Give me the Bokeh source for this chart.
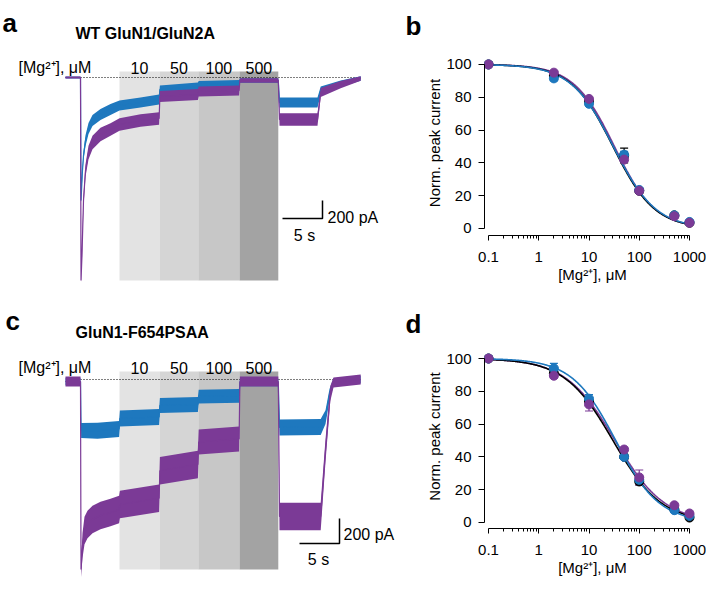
import numpy as np
from bokeh.plotting import figure
from bokeh.layouts import row, column
from bokeh.models import (Range1d, FixedTicker, CustomJSTickFormatter,
                          Whisker, TeeHead, ColumnDataSource)
from bokeh.core.properties import value
from bokeh.embed import file_html
from bokeh.resources import INLINE

FONT = "Liberation Sans"
BLUE = "#1e78be"
PURPLE = "#7b3a96"
BLACK = "#000000"

# ---------------- Mg2+ application windows (s) ----------------
mg_labels = ["10", "50", "100", "500"]
mg_on = [6.75, 11.75, 16.6, 21.75]
mg_off = [11.75, 16.6, 21.75, 26.6]
shade_colors = ["#e3e3e3", "#d5d5d5", "#c7c7c7", "#a3a3a3"]

# ---------------- panel a traces (time s, current pA, noise pA) ----------------
a_blue_t = [0, 1.875, 1.94, 2.125, 2.25, 2.5, 2.875, 3.375, 4.375, 5.625, 6.75, 9.375,
            11.7, 11.8, 16.55, 16.65, 21.7, 21.8, 26.6, 26.75, 31.5, 31.9, 34.4, 36.9]
a_blue_i = [0, 0, -1365, -1030, -866, -700, -566, -477, -411, -355, -311, -278,
            -244, -133, -100, -78, -67, -33, -33, -278, -278, -144, -67, -11]
a_blue_n = [11, 11, 20, 40, 50, 60, 60, 60, 60, 60, 55, 55,
            55, 45, 45, 40, 40, 25, 25, 55, 55, 45, 35, 25]

a_purple_t = [0, 1.875, 1.94, 2.06, 2.25, 2.5, 2.875, 3.375, 4.375, 5.625, 6.75, 9.375,
              11.7, 11.8, 16.55, 16.65, 21.7, 21.8, 26.6, 26.75, 31.5, 31.9, 34.4, 36.9]
a_purple_i = [0, 0, -2253, -1976, -1365, -1032, -833, -722, -633, -577, -522, -477,
              -455, -211, -189, -155, -144, -33, -33, -466, -466, -167, -78, -11]
a_purple_n = [11, 11, 20, 40, 60, 70, 75, 75, 75, 70, 70, 70,
              70, 60, 60, 55, 55, 25, 25, 70, 70, 50, 40, 25]

# ---------------- panel c traces ----------------
c_blue_t = [0, 1.875, 1.95, 4.0, 6.7, 6.8, 11.7, 11.8, 16.55, 16.65, 21.7, 21.8,
            26.6, 26.75, 31.9, 32.5, 33.0, 33.5, 36.9]
c_blue_i = [-16, -16, -408, -410, -395, -312, -300, -208, -200, -136, -130, -24,
            -24, -384, -380, -300, -120, -20, 0]
c_blue_n = [30, 30, 60, 64, 64, 64, 64, 60, 60, 55, 55, 30,
            30, 64, 64, 55, 45, 30, 30]

c_purple_t = [0, 1.875, 1.94, 2.125, 2.375, 2.75, 3.375, 4.375, 5.625, 6.7, 6.8, 11.7,
              11.8, 16.55, 16.65, 21.7, 21.8, 26.6, 26.75, 31.9, 32.5, 33.1, 33.5, 36.9]
c_purple_i = [-16, -16, -1520, -1328, -1208, -1160, -1120, -1088, -1064, -1040, -1000, -950,
              -730, -680, -500, -475, -16, -16, -1096, -1096, -568, -112, -24, 0]
c_purple_n = [40, 40, 60, 100, 110, 110, 110, 110, 110, 110, 110, 110,
              110, 110, 100, 100, 40, 40, 110, 110, 90, 60, 40, 40]

# ---------------- dose-response data ----------------
conc = [0.1, 2, 10, 50, 100, 500, 1000]

b_black = [100, 93, 77.5, 44.5, 23, 8, 3.5]
b_black_sem = [0, 1, 1.5, 4.5, 1.5, 1, 0.5]
b_blue = [100, 91.5, 76, 45, 23.5, 8, 4]
b_blue_sem = [0, 1.5, 1.5, 2, 1, 1, 0.5]
b_purple = [100, 95, 79, 42, 23, 7.5, 3.5]
b_purple_sem = [0, 1, 1, 1.5, 1.5, 1, 0.5]

d_black = [100, 91, 74, 40, 25, 8, 3]
d_black_sem = [0, 1, 1.5, 1.5, 2, 1, 0.5]
d_blue = [100, 94, 75.5, 40, 26, 7.5, 4]
d_blue_sem = [0, 3, 2.5, 1.5, 2, 1, 0.5]
d_purple = [100, 89.5, 72, 44.5, 27.5, 10.5, 5.5]
d_purple_sem = [0, 1.5, 4, 1.5, 4.5, 1, 0.5]

# Hill fit parameters (IC50 uM, nH)
b_fit = {"black": (30, 1.05), "blue": (30.5, 1.03), "purple": (32, 1.07)}
d_fit = {"black": (30, 0.9), "blue": (34, 1.0), "purple": (33, 0.88)}

x_ticks = [0.1, 1, 10, 100, 1000]
x_minor = [k * 10.0 ** e for e in range(-1, 3) for k in range(2, 10)]
y_ticks = [0, 20, 40, 60, 80, 100]

LVL = "annotation"   # draw outside the frame without clipping


def hill(c, ic50, nh):
    return 100.0 / (1.0 + (c / ic50) ** nh)


def txt(p, x, y, s, size="16px", bold=False, align="left"):
    p.text(x=[x], y=[y], text=[s], text_font=value(FONT), text_font_size=value(size),
           text_font_style="bold" if bold else "normal", text_align=align,
           text_baseline="alphabetic", text_color="black", level=LVL)


def band(p, t, i, n, color):
    t = np.asarray(t, float)
    i = np.asarray(i, float)
    n = np.asarray(n, float)
    p.varea(x=t, y1=i - n, y2=i + n, fill_color=color, level=LVL)
    p.line(t, i, line_color=color, line_width=1.2, level=LVL)


def trace_panel(yr, top, bottom, shade_top, shade_bottom, letter, title, letter_x, letter_y,
                title_y, mg_y, blue, purple, sb_corner, sb_label_y, sb5_label_y,
                sb_label_x, sb5_x):
    p = figure(width=400, height=300, x_range=Range1d(-8.125, 41.875), y_range=Range1d(*yr),
               x_axis_location=None, y_axis_location=None, toolbar_location=None,
               output_backend="svg", min_border_left=0, min_border_right=0,
               min_border_top=top, min_border_bottom=bottom, outline_line_color=None)
    p.grid.visible = False
    p.quad(left=mg_on, right=mg_off, top=shade_top, bottom=shade_bottom,
           fill_color=shade_colors, line_color=None, level=LVL)
    p.line([1.875, 36.875], [0, 0], line_color="black", line_dash="1 2", line_width=1.2,
           level=LVL)
    band(p, *blue, BLUE)
    band(p, *purple, PURPLE)
    txt(p, letter_x, letter_y, letter, size="26px", bold=True)
    txt(p, 1.25, title_y, title, size="16px", bold=True)
    txt(p, -5.875, mg_y, "[Mg²⁺], μM", size="16px")
    for lab, on, off in zip(mg_labels, mg_on, mg_off):
        txt(p, (on + off) / 2, mg_y, lab, size="16px", align="center")
    cx, cy = sb_corner
    p.line([cx - 5, cx, cx], [cy, cy, cy + 200], line_color="black", line_width=1.5,
           level=LVL)
    txt(p, sb_label_x, sb_label_y, "200 pA", size="16px")
    txt(p, sb5_x, sb5_label_y, "5 s", size="16px", align="center")
    return p


pa = trace_panel((-1753.8, 299.7), 50, 65, 67, -2253, "a", "WT GluN1/GluN2A", -7.875, 610,
                 488, 111,
                 (a_blue_t, a_blue_i, a_blue_n), (a_purple_t, a_purple_i, a_purple_n),
                 (32.125, -1565), -1554, -1754, 32.75, 29.875)
pc = trace_panel((-1192, 280), 44, 72, 64, -1520, "c", "GluN1-F654PSAA", -7.5, 472, 376, 96,
                 (c_blue_t, c_blue_i, c_blue_n), (c_purple_t, c_purple_i, c_purple_n),
                 (34.25, -1312), -1240, -1440, 34.75, 31.625)


def dose_panel(letter, yr, top, bottom, letter_y, groups, fits):
    p = figure(width=306, height=300, x_axis_type="log", x_range=Range1d(0.0832, 1656),
               y_range=Range1d(*yr), toolbar_location=None, output_backend="svg",
               min_border_left=84, min_border_right=6, min_border_top=top,
               min_border_bottom=bottom, outline_line_color=None)
    p.grid.visible = False
    xs = np.logspace(-1, 3, 300)
    for name in ["purple", "black", "blue"]:
        col = {"purple": PURPLE, "black": BLACK, "blue": BLUE}[name]
        ic, nh = fits[name]
        p.line(xs, hill(xs, ic, nh), line_color=col, line_width=1.6)
    for ys, sem, col in groups:
        ys = np.asarray(ys, float)
        sem = np.asarray(sem, float)
        src = ColumnDataSource(dict(x=conc, y=ys, lo=ys - sem, hi=ys + sem))
        w = Whisker(source=src, base="x", lower="lo", upper="hi", line_color=col,
                    line_width=1.2,
                    upper_head=TeeHead(size=8, line_color=col, line_width=1.2),
                    lower_head=TeeHead(size=8, line_color=col, line_width=1.2))
        p.add_layout(w)
        p.scatter("x", "y", source=src, size=9, fill_color=col, line_color=col)
    xa = p.xaxis[0]
    xa.ticker = FixedTicker(ticks=x_ticks, minor_ticks=x_minor)
    xa.formatter = CustomJSTickFormatter(code="return tick.toString()")
    xa.bounds = (0.1, 1000)
    xa.axis_label = "[Mg²⁺], μM"
    ya = p.yaxis[0]
    ya.ticker = FixedTicker(ticks=y_ticks)
    ya.bounds = (0, 100)
    ya.axis_label = "Norm. peak current"
    for ax in (xa, ya):
        ax.axis_line_color = "black"
        ax.axis_line_width = 1
        ax.major_tick_line_color = "black"
        ax.minor_tick_line_color = "black"
        ax.major_tick_in = 0
        ax.minor_tick_in = 0
        ax.major_label_text_font = FONT
        ax.major_label_text_font_size = "15px"
        ax.major_label_text_color = "black"
        ax.axis_label_text_font = FONT
        ax.axis_label_text_font_size = "15px"
        ax.axis_label_text_font_style = "normal"
        ax.axis_label_text_color = "black"
    xa.major_tick_out = 5
    xa.minor_tick_out = 3
    xa.major_label_standoff = 11
    xa.axis_label_standoff = 1
    ya.major_tick_out = 6
    ya.minor_tick_line_color = None
    ya.major_label_standoff = 7
    ya.axis_label_standoff = 0
    txt(p, 0.00223, letter_y, letter, size="26px", bold=True)
    return p


pb = dose_panel("b", (-4.27, 108.5), 50, 65, 123.2,
                [(b_black, b_black_sem, BLACK), (b_blue, b_blue_sem, BLUE),
                 (b_purple, b_purple_sem, PURPLE)], b_fit)
pd_ = dose_panel("d", (-3.66, 108.54), 44, 72, 121.3,
                 [(d_black, d_black_sem, BLACK), (d_blue, d_blue_sem, BLUE),
                  (d_purple, d_purple_sem, PURPLE)], d_fit)

layout = column(row(pa, pb), row(pc, pd_))
open("out.html", "w").write(file_html(layout, INLINE))
